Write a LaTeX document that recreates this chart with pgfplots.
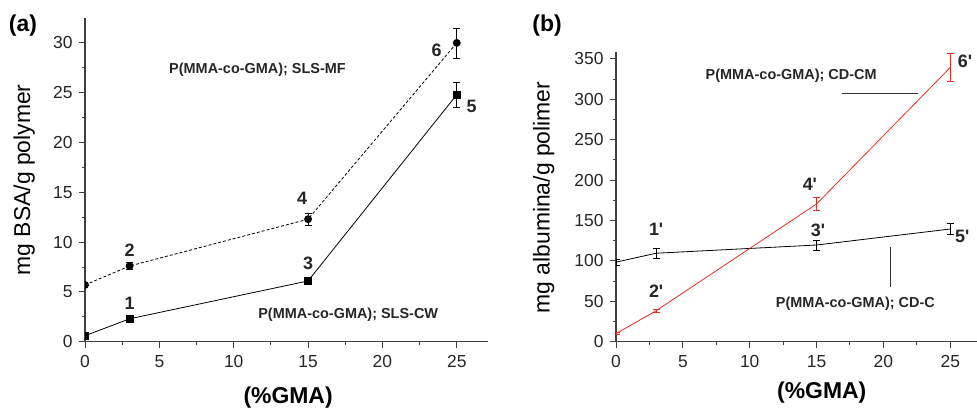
\documentclass[border=0pt]{standalone}
\usepackage{fontspec}
\setmainfont{Liberation Sans}
\usepackage{pgfplots}
\pgfplotsset{compat=1.18}
\definecolor{axgray}{rgb}{0.25,0.25,0.25}
\definecolor{myred}{rgb}{0.92,0.18,0.14}
\tikzset{
  num/.style={font=\bfseries\fontsize{18}{18}\selectfont, text=black!85},
  ann/.style={font=\bfseries\fontsize{14.5}{14.5}\selectfont, text=black!85},
}
\pgfplotsset{
  myaxis/.style={
    scale only axis,
    axis x line*=bottom, axis y line*=left,
    axis line style={axgray, line width=1.1bp},
    tick align=outside,
    major tick length=6bp, minor tick length=3.5bp,
    every tick/.style={axgray, line width=1bp},
    minor tick num=1,
    xmin=0, xmax=27.1, ymin=0,
    xtick={0,5,10,15,20,25},
    /pgf/number format/assume math mode=true,
    tick label style={font=\fontsize{17.5}{17.5}\selectfont, text=black!85},
    xticklabel style={yshift=-4bp},
    yticklabel style={xshift=-3bp},
    label style={font=\fontsize{23}{23}\selectfont},
    xlabel style={font=\bfseries\fontsize{23}{23}\selectfont},
    clip marker paths=true,
    error bars/error bar style={line width=0.7bp},
    error bars/error mark options={rotate=90, mark size=3.5bp, line width=0.7bp},
  },
}
\begin{document}
\begin{tikzpicture}[x=1bp,y=1bp]
\path[use as bounding box] (0,0) rectangle (977,414);
% ---------------- panel (a)
\begin{axis}[myaxis,
  at={(85bp,72.3bp)}, anchor=south west,
  width=403bp, height=323.7bp,
  ymax=32.5, ytick={0,5,10,15,20,25,30},
  xlabel={(\%GMA)}, ylabel={mg BSA/g polymer},
  xlabel style={at={(axis description cs:0.504,-0.174)}, anchor=center},
  ylabel style={at={(axis description cs:-0.151,0.5)}, anchor=center},
]
\addplot[black, line width=0.8bp, mark=square*, mark size=3.3bp,
  mark options={solid},
  error bars/.cd, y dir=both, y explicit]
  coordinates {(0,0.6) +- (0,0) (3,2.3) +- (0,0) (15,6.1) +- (0,0) (25,24.8) +- (0,1.25)};
\addplot[black, line width=0.8bp, dash pattern=on 3bp off 2bp, mark=*, mark size=3.5bp,
  mark options={solid},
  error bars/.cd, y dir=both, y explicit,
  error bar style={solid}, error mark options={solid, rotate=90, mark size=3.5bp}]
  coordinates {(0,5.7) +- (0,0) (3,7.6) +- (0,0.35) (15,12.3) +- (0,0.65) (25,30.0) +- (0,1.5)};
\node[num] at (axis cs:3,3.9) {1};
\node[num] at (axis cs:3,9.2) {2};
\node[num] at (axis cs:15,7.9) {3};
\node[num] at (axis cs:14.6,14.4) {4};
\node[num] at (axis cs:26.0,23.6) {5};
\node[num] at (axis cs:23.65,29.3) {6};
\node[ann] at (axis cs:11.6,27.3) {P(MMA-co-GMA); SLS-MF};
\node[ann] at (axis cs:17.7,2.7) {P(MMA-co-GMA); SLS-CW};
\end{axis}
% ---------------- panel (b)
\begin{axis}[myaxis,
  at={(616bp,72.3bp)}, anchor=south west,
  width=361bp, height=290bp,
  xmax=27.0, ymax=359, ytick={0,50,100,150,200,250,300,350},
  xlabel={(\%GMA)}, ylabel={mg albumina/g polimer},
  xlabel style={at={(axis description cs:0.57,-0.174)}, anchor=center},
  ylabel style={at={(axis description cs:-0.2,0.497)}, anchor=center},
]
\addplot[black, line width=0.8bp, mark=none,
  error bars/.cd, y dir=both, y explicit]
  coordinates {(0,98.5) +- (0,4) (3,109.5) +- (0,6) (15,119.7) +- (0,6) (25,139.5) +- (0,7)};
\addplot[myred, line width=0.8bp, mark=none,
  error bars/.cd, y dir=both, y explicit]
  coordinates {(0,10) +- (0,1) (3,38.4) +- (0,2) (15,170.5) +- (0,8) (25,339.5) +- (0,17)};
\node[num] at (axis cs:3,139.5) {1\textquotesingle};
\node[num] at (axis cs:3,63) {2\textquotesingle};
\node[num] at (axis cs:15.1,138) {3\textquotesingle};
\node[num] at (axis cs:14.5,195) {4\textquotesingle};
\node[num] at (axis cs:25.9,130) {5\textquotesingle};
\node[num] at (axis cs:26.1,346.7) {6\textquotesingle};
\node[ann] at (axis cs:13.1,329) {P(MMA-co-GMA); CD-CM};
\node[ann] at (axis cs:17.9,47.5) {P(MMA-co-GMA); CD-C};
\draw[black!80, line width=0.9bp] (axis cs:16.9,307.5) -- (axis cs:22.6,307.5);
\draw[black!80, line width=0.9bp] (axis cs:20.5,67.3) -- (axis cs:20.5,117.6);
\end{axis}
\node[font=\bfseries\fontsize{23}{23}\selectfont] at (23,388) {(a)};
\node[font=\bfseries\fontsize{23}{23}\selectfont] at (547,388) {(b)};
\end{tikzpicture}
\end{document}
